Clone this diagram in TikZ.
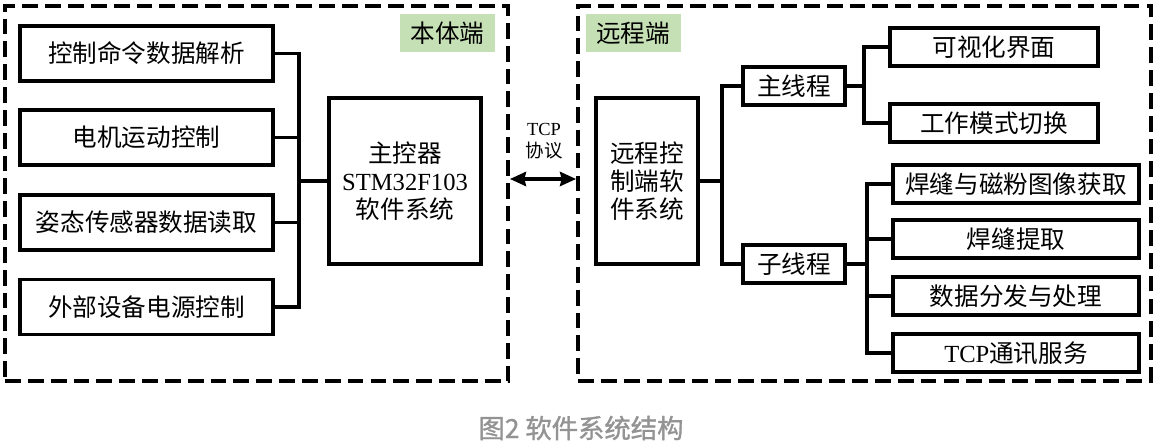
\documentclass[tikz,border=0pt]{standalone}
\usepackage{fontspec}
\setmainfont{Liberation Serif}
\newfontfamily\cjk{Noto Sans CJK SC}
\newfontfamily\tucjk[FakeBold=1.2]{Noto Sans CJK SC}
\usetikzlibrary{arrows.meta}
\definecolor{lvse}{HTML}{C5E0B4}
\definecolor{tuhui}{HTML}{939393}
\begin{document}
\begin{tikzpicture}[x=0.02cm, y=-0.02cm, line width=1.9pt,
    kuang/.style={draw, line width=1.9pt, inner sep=0pt, align=center, font=\cjk\fontsize{14}{16}\selectfont},
    duan/.style={fill=lvse, inner sep=0pt, minimum width=1.9cm, minimum height=0.76cm, font=\cjk\fontsize{14}{16}\selectfont},
    xukuang/.style={draw, line width=2.2pt, dash pattern=on 9pt off 4pt, inner sep=0pt}]
\useasboundingbox (0,0) rectangle (1155,442);
    \begin{scope}
% 本体端
\node[xukuang, minimum width=10.06cm, minimum height=7.5cm] (benti) at (256.5,193.5) {};
\node[duan] (bentibiao) at (447.5,33) {本体端};
\node[kuang, minimum width=5.06cm, minimum height=1.1cm] (jiexi) at (146.5,53.5) {控制命令数据解析};
\node[kuang, minimum width=5.06cm, minimum height=1.1cm] (dianji) at (146.5,137.5) {电机运动控制};
\node[kuang, minimum width=5.06cm, minimum height=1.1cm] (zitai) at (146.5,222.5) {姿态传感器数据读取};
\node[kuang, minimum width=5.06cm, minimum height=1.1cm] (dianyuan) at (146.5,307) {外部设备电源控制};
\node[kuang, minimum width=3.04cm, minimum height=3.32cm] (zhukong) at (405,181) {主控器\\{\rmfamily STM32F103}\\软件系统};
\coordinate (zongL) at (299,181);
\draw (jiexi.east) -| (zongL) |- (dianyuan.east);
\draw (dianji.east) -- (dianji.east -| zongL);
\draw (zitai.east) -- (zitai.east -| zongL);
\draw (zongL) -- (zhukong.west);
\end{scope}
\begin{scope}
% 远程端
\node[xukuang, minimum width=11.46cm, minimum height=7.5cm] (yuancheng) at (864.5,193.5) {};
\node[duan] (yuanchengbiao) at (633,33) {远程端};
\node[kuang, minimum width=2.04cm, minimum height=3.32cm] (ruanjian) at (647,181) {远程控\\制端软\\件系统};
\node[kuang, minimum width=2.04cm, minimum height=0.76cm] (zhuxc) at (794,86) {主线程};
\node[kuang, minimum width=2.04cm, minimum height=0.76cm] (zixc) at (794,264) {子线程};
\node[kuang, minimum width=4.16cm, minimum height=0.76cm] (jiemian) at (994,47) {可视化界面};
\node[kuang, minimum width=4.16cm, minimum height=0.76cm] (qiehuan) at (994,123) {工作模式切换};
\node[kuang, minimum width=4.92cm, minimum height=0.76cm] (huoqu) at (1016,184) {焊缝与磁粉图像获取};
\node[kuang, minimum width=4.92cm, minimum height=0.76cm] (tiqu) at (1016,239) {焊缝提取};
\node[kuang, minimum width=4.92cm, minimum height=0.76cm] (chuli) at (1016,296) {数据分发与处理};
\node[kuang, minimum width=4.92cm, minimum height=0.76cm] (fuwu) at (1016,353) {{\rmfamily TCP}通讯服务};
\coordinate (zongR) at (722,181);
\coordinate (zongA) at (864,86);
\coordinate (zongB) at (867,264);
\draw (zhuxc.west) -| (zongR) |- (zixc.west);
\draw (ruanjian.east) -- (zongR);
\draw (jiemian.west) -| (zongA) |- (qiehuan.west);
\draw (zhuxc.east) -- (zongA);
\draw (huoqu.west) -| (zongB) |- (fuwu.west);
\draw (tiqu.west) -- (tiqu.west -| zongB);
\draw (chuli.west) -- (chuli.west -| zongB);
\draw (zixc.east) -- (zongB);
\end{scope}
% TCP
\node[align=center, inner sep=0pt, font=\fontsize{10.5}{12.5}\selectfont] (xieyi) at (544,141) {TCP\\{\cjk 协议}};
\draw[line width=2.3pt, {Stealth[length=0.32cm,width=0.28cm,inset=0.03cm]}-{Stealth[length=0.32cm,width=0.28cm,inset=0.03cm]}] (benti.east |- 0,179) -- (yuancheng.west |- 0,179);
\node[text=tuhui, inner sep=0pt, font=\tucjk\fontsize{15}{18}\selectfont] (tuming) at (581,428) {图2 软件系统结构};
\end{tikzpicture}
\end{document}
